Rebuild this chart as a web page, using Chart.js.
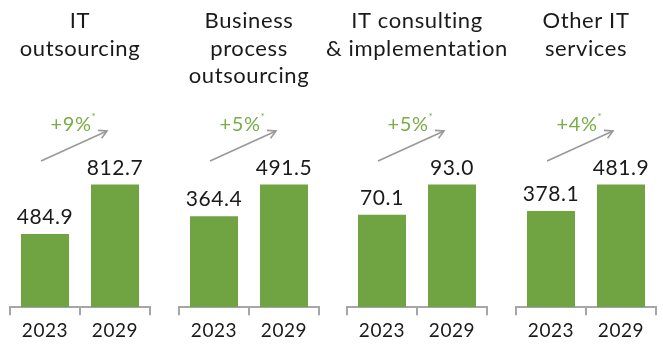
<!DOCTYPE html>
<html>
<head>
<meta charset="utf-8">
<script src="https://cdn.jsdelivr.net/npm/chart.js@4/dist/chart.umd.min.js"></script>
<style>
  html, body { margin: 0; padding: 0; background: #ffffff; }
  #wrap { position: relative; width: 663px; height: 346px; overflow: hidden; }
  .panel { position: absolute; top: 0; width: 200px; height: 346px; }
</style>
</head>
<body>
<div id="wrap">
  <div class="panel" style="left:-20px"><canvas id="c0"></canvas></div>
  <div class="panel" style="left:149px"><canvas id="c1"></canvas></div>
  <div class="panel" style="left:317px"><canvas id="c2"></canvas></div>
  <div class="panel" style="left:486px"><canvas id="c3"></canvas></div>
</div>
<script>
// Market size by segment, 2023 vs 2029
const years = ['2023', '2029'];
const segments = [
  ['IT', 'outsourcing'],
  ['Business', 'process', 'outsourcing'],
  ['IT consulting', '& implementation'],
  ['Other IT', 'services']
];
const values2023 = [484.9, 364.4, 70.1, 378.1];
const values2029 = [812.7, 491.5, 93.0, 481.9];
const cagr = [9, 5, 5, 4];

const FONT = 'Lato, "Open Sans", sans-serif';
const INK = '#1a1a1a';
const BAR = '#70a442';
const GROWTH = '#79ad47';
const AXIS = '#a6a6a6';

// Slightly open tracking for all text in a panel
const tracking = {
  id: 'tracking',
  beforeDraw(chart) { chart.ctx.letterSpacing = '0.6px'; }
};

// Segment heading, value labels and growth arrow for one panel
const panelDecor = {
  id: 'panelDecor',
  afterDatasetsDraw(chart, args, opts) {
    const ctx = chart.ctx;
    const meta = chart.getDatasetMeta(0);
    const area = chart.chartArea;
    const cx = (area.left + area.right) / 2;
    ctx.save();
    ctx.letterSpacing = '0.6px';

    // heading
    ctx.fillStyle = INK;
    ctx.font = '22px ' + FONT;
    ctx.textAlign = 'center';
    ctx.textBaseline = 'middle';
    opts.title.forEach((line, i) => ctx.fillText(line, cx, 21 + i * 27.5));

    // value labels
    ctx.font = '21px ' + FONT;
    ctx.textBaseline = 'alphabetic';
    const data = chart.data.datasets[0].data;
    meta.data.forEach((bar, i) => {
      ctx.fillText(data[i].toFixed(1), bar.x, bar.y - 10);
    });

    // growth arrow
    const b0 = meta.data[0], b1 = meta.data[1];
    const x0 = b0.x - 4, y0 = 161;
    const x1 = b1.x - 8, y1 = 131;
    ctx.strokeStyle = '#999999';
    ctx.lineWidth = 1.6;
    ctx.beginPath();
    ctx.moveTo(x0, y0);
    ctx.lineTo(x1, y1);
    ctx.stroke();
    const ang = Math.atan2(y1 - y0, x1 - x0);
    const hl = 9;
    ctx.beginPath();
    ctx.moveTo(x1 - hl * Math.cos(ang - 0.5), y1 - hl * Math.sin(ang - 0.5));
    ctx.lineTo(x1, y1);
    ctx.lineTo(x1 - hl * Math.cos(ang + 0.5), y1 - hl * Math.sin(ang + 0.5));
    ctx.stroke();

    // growth label with superscript asterisk
    const gx = (x0 + x1) / 2 - 3;
    const txt = '+' + opts.growth + '%';
    ctx.font = '20px ' + FONT;
    ctx.fillStyle = GROWTH;
    ctx.textBaseline = 'middle';
    ctx.textAlign = 'center';
    ctx.fillText(txt, gx, 125);
    const w = ctx.measureText(txt).width;
    ctx.font = '10px ' + FONT;
    ctx.textAlign = 'left';
    ctx.fillText('*', gx + w / 2, 117);
    ctx.restore();
  }
};

segments.forEach((title, k) => {
  const vals = [values2023[k], values2029[k]];
  new Chart(document.getElementById('c' + k), {
    type: 'bar',
    data: {
      labels: years,
      datasets: [{
        data: vals,
        backgroundColor: BAR,
        borderWidth: 0,
        barPercentage: 0.686,
        categoryPercentage: 1
      }]
    },
    options: {
      responsive: true,
      maintainAspectRatio: false,
      animation: false,
      events: [],
      layout: { padding: { left: 30, right: 30, top: 62, bottom: 0 } },
      plugins: {
        legend: { display: false },
        tooltip: { enabled: false },
        panelDecor: { title: title, growth: cagr[k] }
      },
      scales: {
        x: {
          grid: {
            offset: true,
            drawOnChartArea: false,
            drawTicks: true,
            tickLength: 8,
            color: AXIS,
            lineWidth: 2
          },
          border: { display: true, color: AXIS, width: 2 },
          ticks: {
            color: INK,
            font: { family: FONT, size: 19 },
            padding: 4
          }
        },
        y: {
          display: false,
          min: 0,
          max: Math.max(...vals) * 2
        }
      }
    },
    plugins: [tracking, panelDecor]
  });
});
</script>
</body>
</html>
